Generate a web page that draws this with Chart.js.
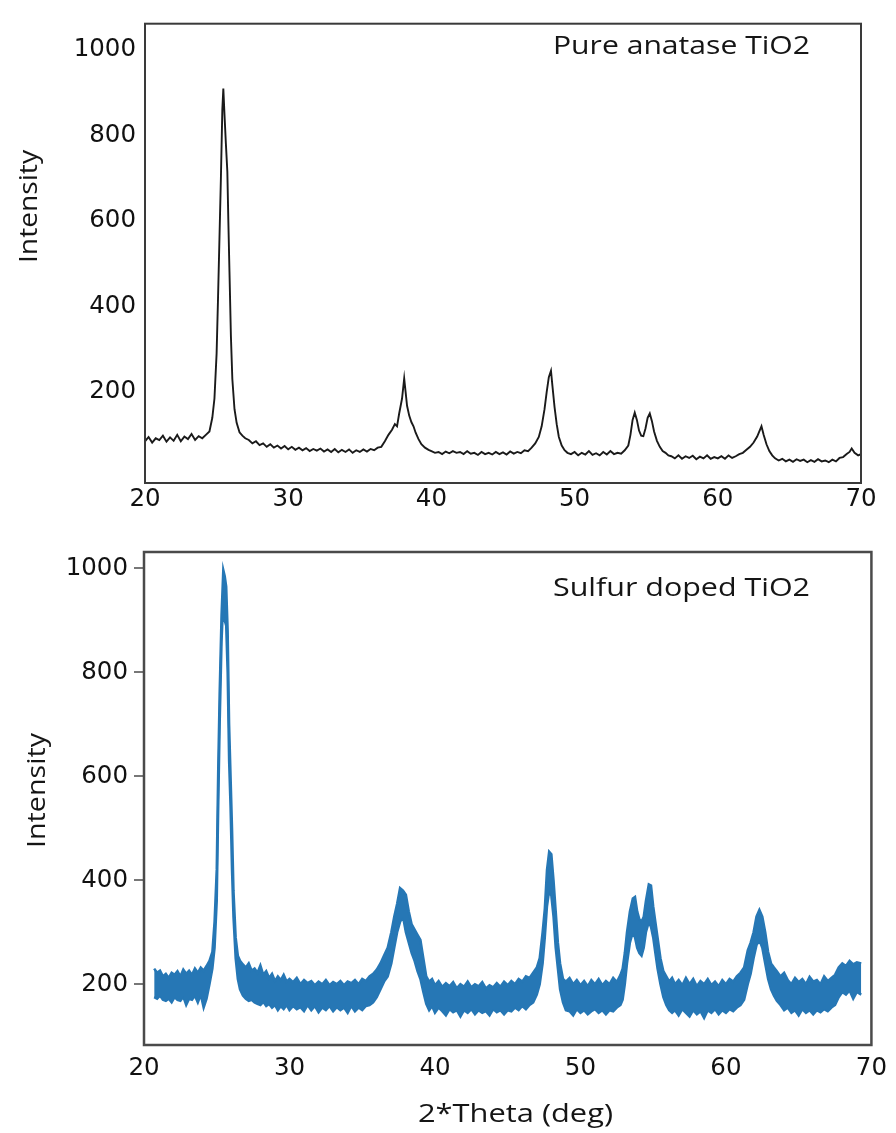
<!DOCTYPE html>
<html><head><meta charset="utf-8">
<script src="https://cdn.jsdelivr.net/npm/chart.js@4.4.1/dist/chart.umd.min.js"></script>
<style>
html,body{margin:0;padding:0;background:#fff;width:896px;height:1133px;overflow:hidden}
canvas{position:absolute;left:0}
#c1{top:0}
#c2{top:520px}
</style></head><body>
<canvas id="c1" width="896" height="520"></canvas>
<canvas id="c2" width="896" height="613"></canvas>
<script>
// ---- data ----
const thetaTicks = [20, 30, 40, 50, 60, 70];
const intensityTicks = [200, 400, 600, 800, 1000];
const pureLabel = 'Pure anatase TiO2';
const dopedLabel = 'Sulfur doped TiO2';
const xTitle = '2*Theta (deg)';
const yTitle = 'Intensity';

const pureTheta = [
20.0,20.25,20.5,20.75,21.0,21.25,21.5,21.75,22.0,22.25,
22.5,22.75,23.0,23.25,23.5,23.75,24.0,24.25,24.5,24.7,
24.85,25.0,25.1,25.2,25.3,25.4,25.47,25.55,25.65,25.75,
25.82,25.9,26.0,26.1,26.25,26.4,26.6,26.8,27.0,27.25,
27.5,27.75,28.0,28.25,28.5,28.75,29.0,29.25,29.5,29.75,
30.0,30.25,30.5,30.75,31.0,31.25,31.5,31.75,32.0,32.25,
32.5,32.75,33.0,33.25,33.5,33.75,34.0,34.25,34.5,34.75,
35.0,35.25,35.5,35.75,36.0,36.25,36.5,36.75,37.0,37.25,
37.45,37.6,37.75,37.95,38.1,38.2,38.3,38.45,38.6,38.75,
38.9,39.1,39.3,39.55,39.8,40.0,40.25,40.5,40.75,41.0,
41.25,41.5,41.75,42.0,42.25,42.5,42.75,43.0,43.25,43.5,
43.75,44.0,44.25,44.5,44.75,45.0,45.25,45.5,45.75,46.0,
46.25,46.5,46.75,47.0,47.25,47.5,47.7,47.9,48.05,48.2,
48.35,48.45,48.6,48.75,48.9,49.1,49.3,49.5,49.75,50.0,
50.25,50.5,50.75,51.0,51.25,51.5,51.75,52.0,52.25,52.5,
52.75,53.0,53.25,53.5,53.75,53.9,54.05,54.2,54.35,54.5,
54.65,54.8,54.95,55.1,55.25,55.4,55.55,55.75,55.95,56.15,
56.35,56.55,56.75,57.0,57.25,57.5,57.75,58.0,58.25,58.5,
58.75,59.0,59.25,59.5,59.75,60.0,60.25,60.5,60.75,61.0,
61.25,61.5,61.75,62.0,62.25,62.5,62.75,62.9,63.05,63.2,
63.4,63.6,63.8,64.0,64.25,64.5,64.75,65.0,65.25,65.5,
65.75,66.0,66.25,66.5,66.75,67.0,67.25,67.5,67.75,68.0,
68.25,68.5,68.75,69.0,69.2,69.35,69.55,69.8,70.0
];
const pureIntensity = [
85,95,82,92,88,98,84,94,86,100,
85,96,90,102,88,97,92,100,108,140,
185,290,420,560,700,860,910,850,780,716,
600,480,330,230,160,128,106,98,92,88,
80,85,76,80,72,78,70,75,68,74,
66,72,65,70,64,69,62,67,63,68,
61,66,60,67,59,65,60,66,58,64,
60,66,61,67,64,70,72,85,100,112,
125,120,150,185,232,200,168,145,130,120,
105,90,78,70,65,62,58,60,55,61,
57,62,58,60,55,62,56,58,53,60,
55,58,54,60,55,59,54,61,56,60,
57,64,62,70,80,95,120,160,200,235,
250,215,165,125,95,75,64,58,55,60,
52,58,54,62,53,57,52,60,54,62,
55,58,56,64,75,100,135,152,135,110,
98,97,115,140,150,132,108,86,72,62,
58,52,50,45,52,44,50,46,51,43,
49,45,52,44,48,45,50,44,52,46,
50,55,58,65,72,82,96,108,120,100,
78,62,52,45,40,44,38,42,37,43,
39,42,36,41,37,43,38,40,36,42,
38,46,48,55,60,68,58,52,55
];

const dopedTheta = [
20.7,20.9,21.1,21.3,21.5,21.7,21.9,22.1,22.3,22.5,
22.7,22.9,23.1,23.3,23.5,23.7,23.9,24.1,24.3,24.5,
24.7,24.85,25.0,25.1,25.2,25.33,25.45,25.55,25.65,25.75,
25.85,25.95,26.05,26.15,26.3,26.45,26.6,26.8,27.0,27.2,
27.4,27.6,27.8,28.0,28.2,28.4,28.6,28.8,29.0,29.2,
29.4,29.6,29.8,30.0,30.25,30.5,30.75,31.0,31.25,31.5,
31.75,32.0,32.25,32.5,32.75,33.0,33.25,33.5,33.75,34.0,
34.25,34.5,34.75,35.0,35.25,35.5,35.75,36.0,36.25,36.5,
36.75,37.0,37.2,37.4,37.6,37.8,38.0,38.2,38.4,38.6,
38.8,39.0,39.2,39.4,39.6,39.8,40.0,40.25,40.5,40.75,
41.0,41.25,41.5,41.75,42.0,42.25,42.5,42.75,43.0,43.25,
43.5,43.75,44.0,44.25,44.5,44.75,45.0,45.25,45.5,45.75,
46.0,46.25,46.5,46.75,47.0,47.2,47.4,47.55,47.7,47.85,
48.0,48.15,48.3,48.45,48.6,48.8,49.0,49.25,49.5,49.75,
50.0,50.25,50.5,50.75,51.0,51.25,51.5,51.75,52.0,52.25,
52.5,52.75,52.9,53.05,53.2,53.4,53.6,53.75,53.9,54.05,
54.2,54.35,54.5,54.7,54.85,55.0,55.15,55.3,55.5,55.7,
55.9,56.1,56.3,56.5,56.75,57.0,57.25,57.5,57.75,58.0,
58.25,58.5,58.75,59.0,59.25,59.5,59.75,60.0,60.25,60.5,
60.75,61.0,61.25,61.5,61.7,61.9,62.1,62.3,62.5,62.7,
62.9,63.1,63.3,63.5,63.75,64.0,64.25,64.5,64.75,65.0,
65.25,65.5,65.75,66.0,66.25,66.5,66.75,67.0,67.25,67.5,
67.75,68.0,68.25,68.5,68.75,69.0,69.3
];
const dopedUpper = [
230,222,226,215,220,212,222,218,225,215,
228,220,226,218,230,222,232,226,235,245,
262,320,420,610,760,910,997,985,965,880,
700,600,500,380,290,255,245,238,232,240,
226,230,222,236,218,225,212,220,206,215,
208,218,205,210,204,212,200,208,202,206,
198,205,200,208,198,204,200,206,198,205,
202,208,200,210,206,215,220,228,240,255,
270,300,330,355,385,380,372,340,315,305,
295,285,250,215,205,210,198,206,195,202,
196,204,192,200,195,205,194,200,196,204,
192,198,194,202,195,205,198,206,200,210,
205,215,212,222,232,250,300,345,420,455,
450,400,340,280,240,210,205,212,200,208,
198,206,196,208,200,210,198,206,200,212,
204,218,230,260,300,340,365,368,340,325,
320,330,360,392,390,350,320,290,250,225,
215,205,212,200,208,198,212,200,210,196,
206,200,210,198,205,196,208,200,210,205,
215,222,232,265,280,300,330,343,330,300,
262,240,232,225,215,222,208,200,212,204,
210,200,214,205,208,200,215,206,212,218,
232,240,235,245,238,242,240
];
const dopedLower = [
175,172,178,170,168,172,165,175,170,168,
176,160,172,170,178,165,180,155,172,200,
230,270,360,540,700,860,940,900,890,800,
630,540,420,330,250,210,190,178,172,168,
170,165,162,160,166,158,162,155,160,150,
158,152,160,150,158,152,156,148,160,150,
158,146,155,150,158,148,156,150,155,145,
158,148,155,150,158,160,165,175,190,205,
215,240,270,300,320,330,300,280,260,245,
225,210,185,162,150,158,145,155,148,140,
152,146,150,138,150,145,152,142,150,145,
148,140,152,146,150,142,150,148,155,150,
158,152,160,165,180,200,240,290,350,380,
370,330,270,230,190,165,150,148,140,152,
145,150,142,148,152,145,150,142,150,148,
155,160,170,200,240,280,300,290,270,260,
255,270,300,320,310,290,260,230,200,175,
160,150,145,150,140,152,145,138,150,142,
148,135,150,145,152,142,150,145,152,148,
155,160,170,200,220,250,275,285,270,240,
210,190,178,168,160,150,155,145,150,140,
152,145,150,142,150,146,152,148,155,160,
175,185,180,188,172,185,180
];

// ---- helpers ----
const pts = (xs, ys) => xs.map((x, i) => ({x: x, y: ys[i]}));
const tickFont = {family: 'DejaVu Sans', size: 24.5};
const tickColor = '#111111';
const blue = '#2677b5';

const framePlugin = {
  id: 'frame',
  afterDatasetsDraw(chart, args, opts) {
    const {left, top, right, bottom} = chart.chartArea;
    const ctx = chart.ctx;
    ctx.save();
    ctx.strokeStyle = opts.color;
    ctx.lineWidth = opts.width;
    ctx.strokeRect(left, top, right - left, bottom - top);
    ctx.restore();
  }
};
const textPlugin = {
  id: 'texts',
  afterDraw(chart, args, opts) {
    const ctx = chart.ctx;
    (opts.items || []).forEach(it => {
      ctx.save();
      ctx.font = it.size + 'px ' + it.family;
      ctx.fillStyle = it.color || '#151515';
      ctx.textBaseline = 'alphabetic';
      ctx.textAlign = 'left';
      ctx.translate(it.x, it.y);
      if (it.rotate) ctx.rotate(it.rotate);
      const w = ctx.measureText(it.text).width;
      if (it.width) ctx.scale(it.width / w, 1);
      ctx.fillText(it.text, 0, 0);
      ctx.restore();
    });
  }
};

function xScale(height, pad) {
  return {
    type: 'linear', min: thetaTicks[0], max: thetaTicks[thetaTicks.length - 1],
    afterBuildTicks: s => { s.ticks = thetaTicks.map(v => ({value: v})); },
    afterFit: s => { s.height = height; },
    grid: {display: false, drawTicks: false},
    border: {display: false},
    ticks: {font: tickFont, color: tickColor, padding: pad, maxRotation: 0, autoSkip: false, callback: v => String(v)}
  };
}
function yScale(min, max, width, tickLen, pad) {
  return {
    type: 'linear', min: min, max: max,
    afterBuildTicks: s => { s.ticks = intensityTicks.map(v => ({value: v})); },
    afterFit: s => { s.width = width; },
    grid: tickLen > 0 ? {display: true, drawOnChartArea: false, drawTicks: true, tickLength: tickLen, color: '#777', lineWidth: 2} : {display: false, drawTicks: false},
    border: {display: false},
    ticks: {font: tickFont, color: tickColor, padding: pad, autoSkip: false, callback: v => String(v)}
  };
}

// ---- top chart: pure anatase ----
new Chart(document.getElementById('c1'), {
  type: 'scatter',
  data: {datasets: [{
    label: pureLabel,
    data: pts(pureTheta, pureIntensity),
    showLine: true, borderColor: '#1a1a1a', borderWidth: 1.9,
    pointRadius: 0, tension: 0
  }]},
  options: {
    responsive: false, animation: false, events: [],
    layout: {padding: {top: 7, right: 35, left: 0, bottom: 0}},
    scales: {x: xScale(37, 2), y: yScale(-12.6, 1061.6, 145, 0, 9)},
    plugins: {
      legend: {display: false}, tooltip: {enabled: false},
      frame: {color: '#3a3a3a', width: 2},
      texts: {items: [
        {text: pureLabel, x: 553, y: 54, size: 25, family: 'Open Sans', width: 257},
        {text: yTitle, x: 37, y: 263, size: 26, family: 'Open Sans', width: 113, rotate: -Math.PI / 2}
      ]}
    }
  },
  plugins: [framePlugin, textPlugin]
});

// ---- bottom chart: sulfur doped ----
new Chart(document.getElementById('c2'), {
  type: 'scatter',
  data: {datasets: [
    {label: dopedLabel + ' (max)', data: pts(dopedTheta, dopedUpper), showLine: true,
     borderColor: blue, borderWidth: 2.5, pointRadius: 0, tension: 0, fill: '+1', backgroundColor: blue},
    {label: dopedLabel + ' (min)', data: pts(dopedTheta, dopedLower), showLine: true,
     borderColor: blue, borderWidth: 2.5, pointRadius: 0, tension: 0, fill: false}
  ]},
  options: {
    responsive: false, animation: false, events: [],
    layout: {padding: {top: 32, right: 24, left: 0, bottom: 0}},
    scales: {x: xScale(88, 9), y: yScale(83, 1031.7, 144, 10, 6)},
    plugins: {
      legend: {display: false}, tooltip: {enabled: false}, filler: {propagate: false},
      frame: {color: '#4a4a4a', width: 2.5},
      texts: {items: [
        {text: dopedLabel, x: 553, y: 76, size: 25, family: 'Open Sans', width: 257},
        {text: yTitle, x: 45, y: 328, size: 26, family: 'Open Sans', width: 115, rotate: -Math.PI / 2},
        {text: xTitle, x: 418, y: 602, size: 25, family: 'Open Sans', width: 195}
      ]}
    }
  },
  plugins: [framePlugin, textPlugin]
});
</script>
</body></html>
